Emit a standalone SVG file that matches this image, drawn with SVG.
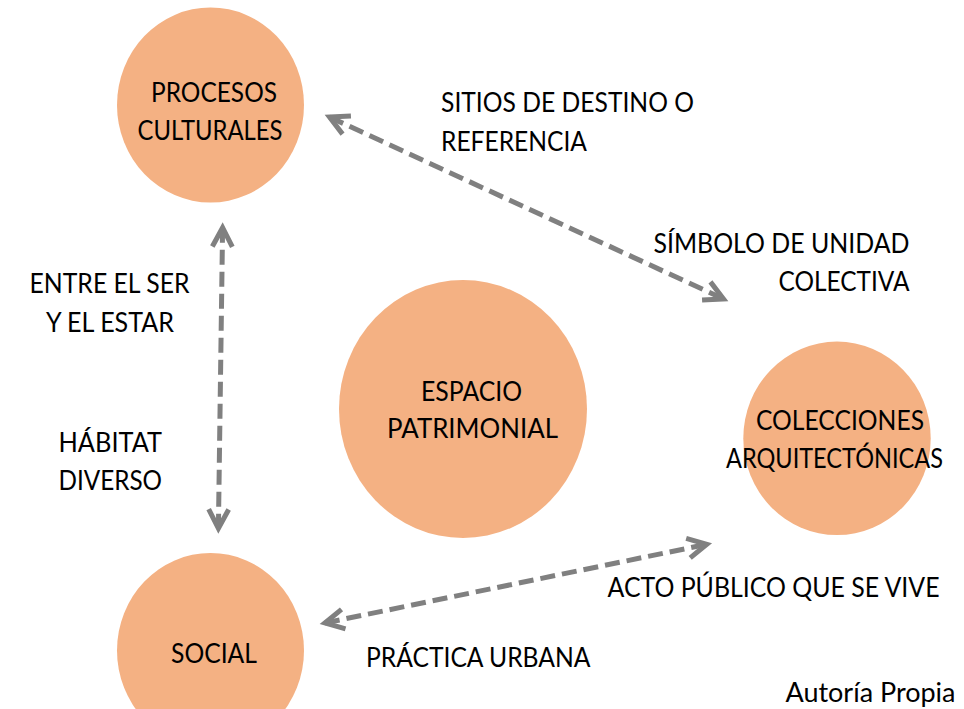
<svg xmlns="http://www.w3.org/2000/svg" width="964" height="709" viewBox="0 0 964 709">
<style>
  .node { fill: #F4B183; stroke: none; }
  text { font-family: Lato, "Open Sans", "Liberation Sans", sans-serif; font-size: 26px; fill: #000000; }
  .conn { fill: none; stroke: #808080; stroke-width: 5; stroke-dasharray: 15 7; stroke-linecap: butt; }
</style>
<defs>
  <marker id="chev" markerUnits="userSpaceOnUse" viewBox="-30 -15 36 30" markerWidth="36" markerHeight="30" refX="0" refY="0" orient="auto-start-reverse" overflow="visible">
    <path d="M-19,-10 L0,0 L-19,10" fill="none" stroke="#808080" stroke-width="5" stroke-linejoin="miter" stroke-miterlimit="10" stroke-dasharray="none"/>
  </marker>
</defs>
<rect width="964" height="709" fill="#FFFFFF"/>

<g id="procesos-culturales">
  <ellipse class="node" cx="210.5" cy="105" rx="93.5" ry="97.5"/>
  <text x="151" y="101.7" textLength="126" lengthAdjust="spacingAndGlyphs">PROCESOS</text>
  <text x="137.5" y="140" textLength="145" lengthAdjust="spacingAndGlyphs">CULTURALES</text>
</g>

<g id="espacio-patrimonial">
  <ellipse class="node" cx="463" cy="409" rx="124" ry="129"/>
  <text x="421" y="400.7" textLength="101" lengthAdjust="spacingAndGlyphs">ESPACIO</text>
  <text x="387" y="438" textLength="171" lengthAdjust="spacingAndGlyphs">PATRIMONIAL</text>
</g>

<g id="colecciones-arquitectonicas">
  <ellipse class="node" cx="837" cy="438.3" rx="93.7" ry="96.7"/>
  <text x="756" y="430" textLength="168" lengthAdjust="spacingAndGlyphs">COLECCIONES</text>
  <text x="726" y="468.3" textLength="217" lengthAdjust="spacingAndGlyphs">ARQUITECTÓNICAS</text>
</g>

<g id="social">
  <ellipse class="node" cx="210.5" cy="650.5" rx="93.5" ry="97.5"/>
  <text x="171" y="663" textLength="86" lengthAdjust="spacingAndGlyphs">SOCIAL</text>
</g>

<g id="connectors">
  <line class="conn" x1="329.5" y1="117.1" x2="723.5" y2="298.9" marker-start="url(#chev)" marker-end="url(#chev)"/>
  <line class="conn" x1="222.6" y1="227.7" x2="218.4" y2="528.3" marker-start="url(#chev)" marker-end="url(#chev)"/>
  <line class="conn" x1="324.9" y1="623" x2="706.8" y2="544.3" marker-start="url(#chev)" marker-end="url(#chev)"/>
</g>

<g id="labels">
  <text x="441" y="111.7" textLength="253" lengthAdjust="spacingAndGlyphs">SITIOS DE DESTINO O</text>
  <text x="441" y="150.7" textLength="146" lengthAdjust="spacingAndGlyphs">REFERENCIA</text>
  <text x="653.5" y="252.7" textLength="256" lengthAdjust="spacingAndGlyphs">SÍMBOLO DE UNIDAD</text>
  <text x="778.5" y="290.7" textLength="131" lengthAdjust="spacingAndGlyphs">COLECTIVA</text>
  <text x="29.5" y="293.3" textLength="160" lengthAdjust="spacingAndGlyphs">ENTRE EL SER</text>
  <text x="46" y="331.7" textLength="128" lengthAdjust="spacingAndGlyphs">Y EL ESTAR</text>
  <text x="58.5" y="451.7" textLength="103.5" lengthAdjust="spacingAndGlyphs">HÁBITAT</text>
  <text x="58.5" y="490" textLength="103.5" lengthAdjust="spacingAndGlyphs">DIVERSO</text>
  <text x="607.5" y="597" textLength="332" lengthAdjust="spacingAndGlyphs">ACTO PÚBLICO QUE SE VIVE</text>
  <text x="366" y="666.7" textLength="224.5" lengthAdjust="spacingAndGlyphs">PRÁCTICA URBANA</text>
  <text x="785.5" y="701.7" textLength="170" lengthAdjust="spacingAndGlyphs">Autoría Propia</text>
</g>
</svg>
